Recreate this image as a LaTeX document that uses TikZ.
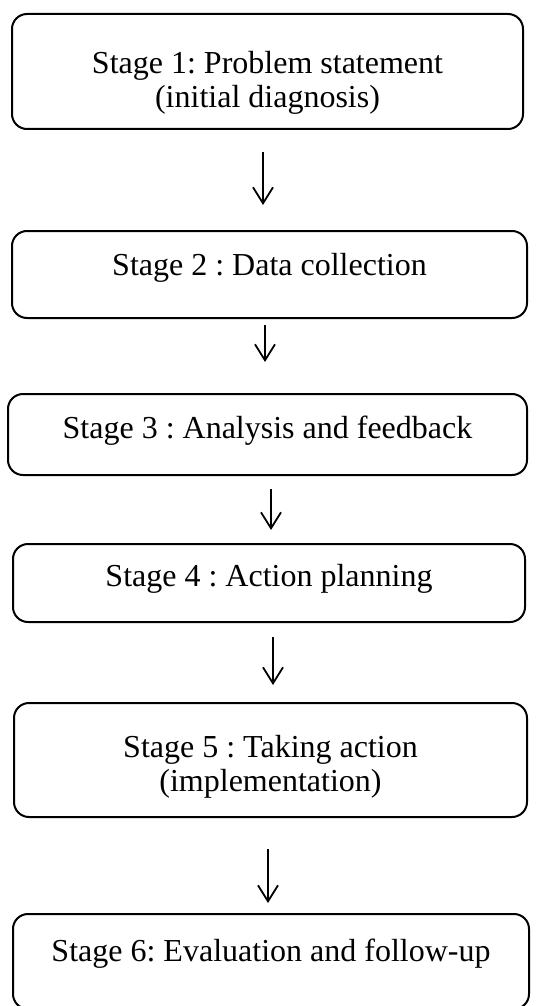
\documentclass[tikz,border=0pt]{standalone}
\usepackage{fontspec}
\setmainfont{Liberation Serif}
\usetikzlibrary{arrows.meta}
\frenchspacing

\begin{document}
\begin{tikzpicture}[x=1pt,y=-1pt,
  >={Straight Barb[length=16pt,width=20pt]},
  stage node/.style={draw,line width=2pt,rounded corners=15pt,align=center,anchor=north,
    inner xsep=0pt,inner ysep=0pt,font=\fontsize{32}{34}\selectfont},
  flow/.style={->,line width=1.8pt}]
\useasboundingbox (0,0) rectangle (537,1006);

% stage boxes
  \node[stage node,minimum width=511pt,text height=94pt,text depth=21pt] (s1) at (267.5,13)
    {Stage 1: Problem statement\\(initial diagnosis)};
  \node[stage node,minimum width=515pt,text height=44pt,text depth=43pt] (s2) at (269.5,230)
    {Stage 2 : Data collection};
  \node[stage node,minimum width=519pt,text height=44pt,text depth=37pt] (s3) at (267.5,393)
    {Stage 3 : Analysis and feedback};
  \node[stage node,minimum width=512pt,text height=42pt,text depth=36pt] (s4) at (269,543)
    {Stage 4 : Action planning};
  \node[stage node,minimum width=513pt,text height=88pt,text depth=26pt] (s5) at (270.5,702)
    {Stage 5 : Taking action\\(implementation)};
  \node[stage node,minimum width=516pt,text height=47pt,text depth=48pt] (s6) at (271,913)
    {Stage 6: Evaluation and follow-up};

% arrows between stages
  \foreach \a/\b/\dx/\sa/\sb in {s1/s2/-4.5/22/25, s2/s3/-4.5/6/31, s3/s4/3.5/13/13,
                                 s4/s5/4/14/17, s5/s6/-2.5/31/10}
    \draw[flow,shorten <=\sa pt,shorten >=\sb pt]
      ([xshift=\dx pt]\a.south) -- ([xshift=\dx pt]\a.south |- \b.north);

\end{tikzpicture}
\end{document}
